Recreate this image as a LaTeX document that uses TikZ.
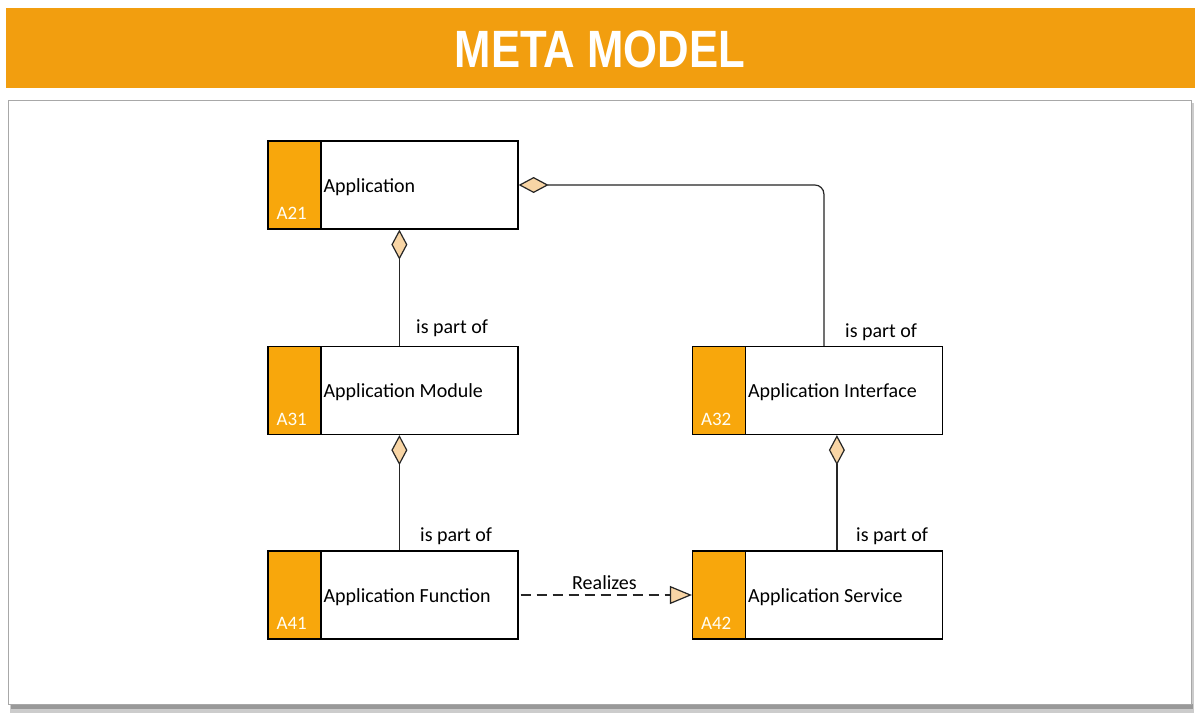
\documentclass[tikz,border=0pt]{standalone}
\usepackage{fontspec}
\setmainfont{Carlito}
\newfontfamily\titlefont{Liberation Sans}
\usetikzlibrary{arrows.meta,calc}
\definecolor{banner}{HTML}{F29E0F}
\definecolor{stripc}{HTML}{F8A70C}
\definecolor{peach}{HTML}{F8D5A5}
\definecolor{panelline}{HTML}{A8A8A8}
\tikzset{
  box/.style={draw=black, line width=1.2pt, fill=white, minimum width=250pt, minimum height=88pt, inner sep=0pt,
    path picture={\fill[stripc] (path picture bounding box.north west) rectangle ([xshift=53pt]path picture bounding box.south west);
      \draw[line width=1.2pt] ([xshift=53pt]path picture bounding box.north west) -- ([xshift=53pt]path picture bounding box.south west);}},
  boxtext/.style={anchor=west, inner sep=0pt, font=\fontsize{20}{24}\selectfont},
  code/.style={anchor=base west, inner sep=0pt, text=white!96!yellow, font=\fontsize{19}{22}\selectfont},
  lbl/.style={anchor=base west, inner sep=0pt, font=\fontsize{20}{24}\selectfont},
  conn/.style={draw=black!85, line width=1.2pt},
  agg/.style={conn, {Diamond[length=30pt,width=16pt,fill=peach,line width=1.2pt]}-},
  real/.style={conn, dash pattern=on 10pt off 6pt, -{Triangle[length=22pt,width=18pt,fill=peach,line width=1.2pt]}}
}
\begin{document}
\begin{tikzpicture}[x=1pt,y=-1pt]
\useasboundingbox (0,0) rectangle (1200,718);
\fill[white] (0,0) rectangle (1200,718);
% banner
\fill[banner] (6,8) rectangle (1195,88);
\node[inner sep=0pt, text=white, font=\titlefont\bfseries\fontsize{42}{48}\selectfont, xscale=1.04, yscale=1.25] (title) at (600,49) {META MODEL};
% panel with shadow
\fill[black!20] (10,103) rectangle (1194,713);
\fill[black!40] (11,704) rectangle (1193,709);
\draw[panelline, fill=white, line width=1pt] (8,100) rectangle (1191,704);
% boxes
\node[box] (a21) at (393,185) {};
\node[box] (a31) at (393,390.5) {};
\node[box] (a41) at (393,595) {};
\node[box] (a32) at (817.5,390.5) {};
\node[box] (a42) at (817.5,595) {};
\node[boxtext] (a21t) at ([xshift=56pt,yshift=-2pt]a21.west) {Application};
\node[boxtext] (a31t) at ([xshift=56pt,yshift=-2pt]a31.west) {Application Module};
\node[boxtext] (a41t) at ([xshift=56pt,yshift=-2pt]a41.west) {Application Function};
\node[boxtext] (a32t) at ([xshift=56pt,yshift=-2pt]a32.west) {Application Interface};
\node[boxtext] (a42t) at ([xshift=56pt,yshift=-2pt]a42.west) {Application Service};
\node[code] (a21c) at ([xshift=9pt,yshift=10pt]a21.south west) {A21};
\node[code] (a31c) at ([xshift=9pt,yshift=10pt]a31.south west) {A31};
\node[code] (a41c) at ([xshift=9pt,yshift=10pt]a41.south west) {A41};
\node[code] (a32c) at ([xshift=9pt,yshift=10pt]a32.south west) {A32};
\node[code] (a42c) at ([xshift=9pt,yshift=10pt]a42.south west) {A42};
% connectors
\draw[agg] ([xshift=132pt]a21.south west) -- ([xshift=132pt]a31.north west);
\draw[agg] ([xshift=132pt]a31.south west) -- ([xshift=132pt]a41.north west);
\draw[agg] ([xshift=145pt]a32.south west) -- ([xshift=145pt]a42.north west);
\draw[agg, rounded corners=9pt] (a21.east) -| ([xshift=132pt]a32.north west);
\draw[real] ([xshift=2pt]a41.east) -- (a42.west);
% labels
\node[lbl] (l1) at (416,333) {is part of};
\node[lbl] (l2) at (420,541) {is part of};
\node[lbl] (l3) at (845,337) {is part of};
\node[lbl] (l4) at (856,541) {is part of};
\node[lbl] (l5) at (572,589) {Realizes};
\end{tikzpicture}
\end{document}
